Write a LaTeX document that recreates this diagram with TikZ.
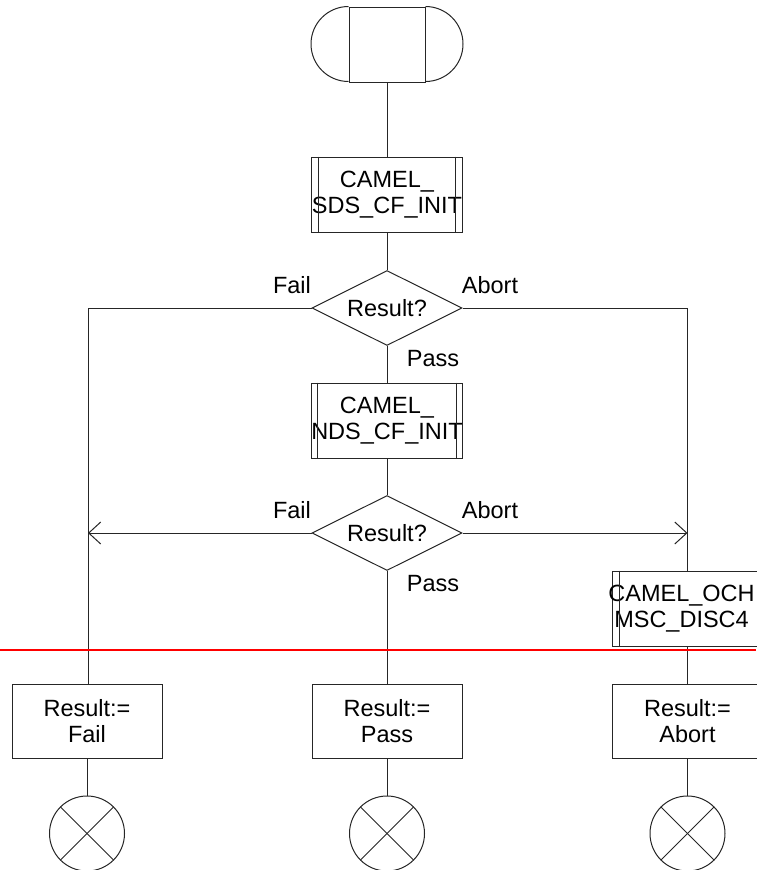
\documentclass[tikz,border=0pt]{standalone}
\usepackage{fontspec}
\setmainfont{Liberation Sans}
\usetikzlibrary{shapes.geometric,arrows.meta}
\begin{document}
\begin{tikzpicture}[x=1pt,y=1pt,
  every node/.style={font=\fontsize{23.5}{26}\selectfont, inner sep=0pt},
  ln/.style={line width=1pt, draw=black!85},
  box/.style={ln, draw, rectangle, minimum width=150pt, minimum height=75pt, align=center},
  dec/.style={ln, draw, diamond, aspect=2, minimum width=150pt, minimum height=75pt},
  term/.style={ln, draw, circle, minimum size=75pt},
  lbl/.style={anchor=center},
  arr/.style={ln, -{Straight Barb[length=12pt,width=22pt,line width=1pt]}}
]
\useasboundingbox (0,0) rectangle (756,-870);

% start symbol
\node[box, minimum width=76pt] (start) at (387,-44.5) {};
\draw[ln] (start.north west) arc[start angle=90, end angle=270, radius=37.5];
\draw[ln] (start.north east) arc[start angle=90, end angle=-90, radius=37.5];

% procedure 1
\node[box] (p1) at (387,-194.5) {CAMEL\_\\SDS\_CF\_INIT};
\draw[ln] ([xshift=7pt]p1.north west) -- ([xshift=7pt]p1.south west);
\draw[ln] ([xshift=-7pt]p1.north east) -- ([xshift=-7pt]p1.south east);

% decision 1
\node[dec, label={center:Result?}] (d1) at (387,-308) {};
\node[lbl] (f1) at (292,-285) {Fail};
\node[lbl] (a1) at (490,-285) {Abort};
\node[lbl] (s1) at (433,-359) {Pass};

% procedure 2
\node[box] (p2) at (387,-420.5) {CAMEL\_\\NDS\_CF\_INIT};
\draw[ln] ([xshift=7pt]p2.north west) -- ([xshift=7pt]p2.south west);
\draw[ln] ([xshift=-7pt]p2.north east) -- ([xshift=-7pt]p2.south east);

% decision 2
\node[dec, label={center:Result?}] (d2) at (387,-533) {};
\node[lbl] (f2) at (292,-510) {Fail};
\node[lbl] (a2) at (490,-510) {Abort};
\node[lbl] (s2) at (433,-584) {Pass};

% procedure OCH
\node[box, label={[xshift=-6pt, align=center]center:CAMEL\_OCH\\MSC\_DISC4}] (och) at (687.5,-608.5) {};
\draw[ln] ([xshift=7pt]och.north west) -- ([xshift=7pt]och.south west);

% result boxes
\node[box, minimum height=74pt] (rf) at (87,-721) {Result:=\\Fail};
\node[box, minimum height=74pt] (rp) at (387,-721) {Result:=\\Pass};
\node[box, minimum height=74pt] (ra) at (687.5,-721) {Result:=\\Abort};

% terminators
\node[term] (cf) at (87,-833.5) {};
\node[term] (cp) at (387,-833.5) {};
\node[term] (ca) at (687.5,-833.5) {};
\foreach \c in {cf,cp,ca}{
  \draw[ln] (\c.north west) -- (\c.south east);
  \draw[ln] (\c.north east) -- (\c.south west);
}

% connectors
\coordinate (fl) at (88,-533);
\coordinate (al) at (687.5,-533);
\draw[ln] (start.south) -- (p1.north);
\draw[ln] (p1.south) -- (d1.north);
\draw[ln] (d1.south) -- (p2.north);
\draw[ln] (p2.south) -- (d2.north);
\draw[ln] (d2.south) -- (rp.north);
\draw[ln] (d1.west) -| ([xshift=1pt]rf.north);
\draw[ln] (d1.east) -| (och.north);
\draw[arr] (d2.west) -- (fl);
\draw[arr] (d2.east) -- (al);
\draw[ln] (och.south) -- (ra.north);
\draw[ln] (rf.south) -- (cf.north);
\draw[ln] (rp.south) -- (cp.north);
\draw[ln] (ra.south) -- (ca.north);

% red line
\coordinate (r0) at (0,-650);
\coordinate (r1) at (756,-650);
\draw[red, line width=1.5pt] (r0) -- (r1);
\end{tikzpicture}
\end{document}
